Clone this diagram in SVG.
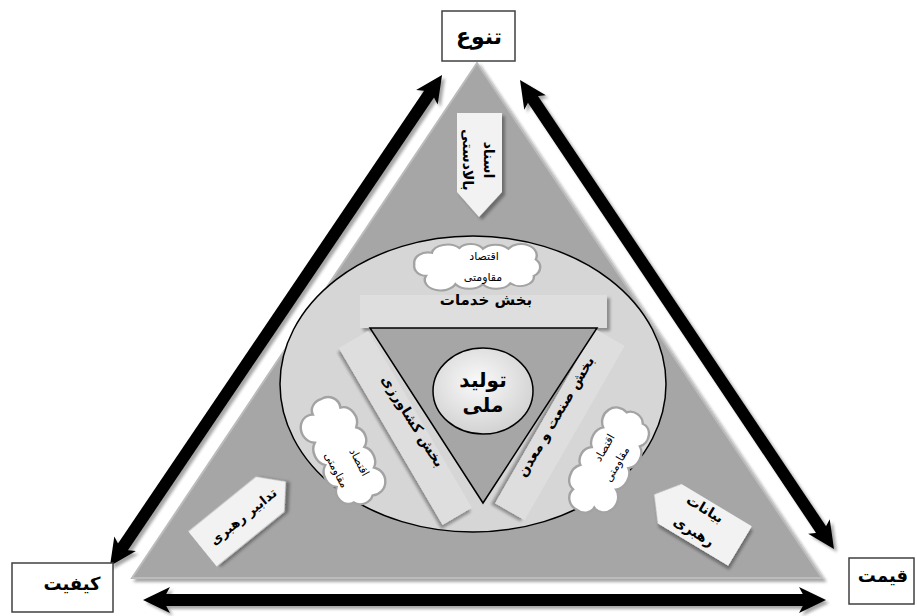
<svg xmlns="http://www.w3.org/2000/svg" xmlns:xlink="http://www.w3.org/1999/xlink" width="917" height="616" viewBox="0 0 917 616">
<style>
text{font-family:"DejaVu Sans","Noto Sans",sans-serif;fill:#000;text-anchor:middle}
.b{font-weight:bold}
.lbl{fill:#fff;stroke:#404040;stroke-width:1.5}
.bar{fill:#dedede}
.pent{fill:#f2f2f2}
.cloud{fill:#fff;stroke:#a3a3a3;stroke-width:2.5;vector-effect:non-scaling-stroke}
.arr{fill:none;stroke:#000;stroke-width:12}
</style>
<defs>
<filter id="sh" x="-10%" y="-10%" width="130%" height="130%">
<feGaussianBlur in="SourceAlpha" stdDeviation="1.8"/>
<feOffset dx="2.5" dy="2.5" result="o"/>
<feFlood flood-color="#000" flood-opacity="0.35"/>
<feComposite in2="o" operator="in"/>
<feMerge><feMergeNode/><feMergeNode in="SourceGraphic"/></feMerge>
</filter>
<radialGradient id="cg" cx="45%" cy="40%" r="65%">
<stop offset="0" stop-color="#fafafa"/>
<stop offset="1" stop-color="#cfcfcf"/>
</radialGradient>
<marker id="ah" viewBox="-6 -14 30 28" markerWidth="30" markerHeight="28" markerUnits="userSpaceOnUse" refX="3" refY="0" orient="auto-start-reverse" overflow="visible">
<path d="M-5,-13 L22,0 L-5,13 L2,0 Z" fill="#000"/>
</marker>
<path id="cloudp" d="M-52,12 A12 12 0 0 1 -64,-2 A14 13 0 0 1 -46,-16 A16 12 0 0 1 -18,-22 A14 11 0 0 1 6,-21 A16 12 0 0 1 32,-21 A16 14 0 0 1 60,-8 A12 12 0 0 1 58,12 A14 11 0 0 1 34,21 A16 12 0 0 1 6,22 A16 11 0 0 1 -22,22 A14 11 0 0 1 -52,12 Z"/>
</defs>

<g id="big-triangle">
<polygon points="477,63 132,578 822,578" fill="#a6a6a6" stroke="#bcbcbc" stroke-width="2" filter="url(#sh)"/>
</g>

<g id="connectors" filter="url(#sh)">
<line class="arr" x1="431.4" y1="90.7" x2="120.6" y2="550.3" marker-start="url(#ah)" marker-end="url(#ah)"/>
<line class="arr" x1="530.6" y1="95.8" x2="823.4" y2="533.2" marker-start="url(#ah)" marker-end="url(#ah)"/>
<line class="arr" x1="162" y1="600" x2="807" y2="600" marker-start="url(#ah)" marker-end="url(#ah)"/>
</g>

<g id="node-tanavo">
<rect class="lbl" x="442" y="11" width="73" height="50"/>
<text class="b" x="479" y="44" font-size="22">تنوع</text>
</g>
<g id="node-keyfiyat">
<rect class="lbl" x="12" y="563" width="101" height="49"/>
<text class="b" x="72" y="590" font-size="18">کیفیت</text>
</g>
<g id="node-gheymat">
<rect class="lbl" x="849" y="558" width="65" height="46"/>
<text class="b" x="883" y="582" font-size="18">قیمت</text>
</g>

<g id="node-asnad">
<polygon class="pent" points="457,113 502,113 502,192 479,217 457,192" filter="url(#sh)"/>
<g transform="translate(478,160) rotate(90)">
<text class="b" x="0" y="-6" font-size="14">اسناد</text>
<text class="b" x="0" y="15" font-size="14">بالادستی</text>
</g>
</g>

<g id="node-tadabir" transform="translate(202.5,549) rotate(-39)">
<polygon class="pent" points="0,-22.5 87,-22.5 107,0 87,22.5 0,22.5" filter="url(#sh)"/>
<text class="b" x="52" y="5" font-size="13">تدابیر رهبری</text>
</g>

<g id="node-bayanat" transform="translate(740,546) rotate(31)">
<polygon class="pent" points="0,-23 0,23 -82,23 -100,0 -82,-23" filter="url(#sh)"/>
<text class="b" x="-49" y="-9" font-size="14">بیانات</text>
<text class="b" x="-47" y="16" font-size="14">رهبری</text>
</g>

<g id="node-eghtesad-ellipse">
<ellipse cx="473" cy="384" rx="193" ry="148" fill="#d6d6d6" stroke="#000" stroke-width="1.5"/>
</g>

<g id="node-cloud-top">
<use href="#cloudp" class="cloud" transform="translate(477,266) scale(0.98,0.82)"/>
<text x="484" y="260" font-size="11">اقتصاد</text>
<text x="483" y="281" font-size="11">مقاومتی</text>
</g>
<g id="node-cloud-left">
<use href="#cloudp" class="cloud" transform="translate(343,451) rotate(65) scale(0.88,1.0)"/>
<g transform="translate(348,466) rotate(62)">
<text x="2" y="-8" font-size="11">اقتصاد</text>
<text x="-2" y="16" font-size="11">مقاومتی</text>
</g>
</g>
<g id="node-cloud-right">
<use href="#cloudp" class="cloud" transform="translate(607,462) rotate(-60) scale(0.88,0.98)"/>
<g transform="translate(610,455.5) rotate(-60)">
<text x="4" y="-5" font-size="11">اقتصاد</text>
<text x="-4" y="14" font-size="11">مقاومتی</text>
</g>
</g>

<g id="node-khadamat">
<rect class="bar" x="360" y="295" width="247" height="33" filter="url(#sh)"/>
<text class="b" x="486" y="305" font-size="15">بخش خدمات</text>
</g>

<g id="node-keshavarzi">
<rect class="bar" x="0" y="-17" width="205" height="34" transform="translate(353.5,339.5) rotate(59.6)" filter="url(#sh)"/>
<text class="b" x="0" y="5" font-size="14" transform="translate(413,421) rotate(58)">بخش کشاورزی</text>
</g>

<g id="node-sanat">
<rect class="bar" x="0" y="-17" width="201" height="34" transform="translate(610,337.5) rotate(119.9)" filter="url(#sh)"/>
<text class="b" x="0" y="5" font-size="14" transform="translate(555.5,416.5) rotate(-59.5)">بخش صنعت و معدن</text>
</g>

<g id="node-inner-triangle">
<polygon points="370,328 597,328 483,503" fill="#a6a6a6" stroke="#000" stroke-width="1.5"/>
</g>

<g id="node-tolid">
<ellipse cx="483" cy="391" rx="50" ry="43" fill="url(#cg)" stroke="#000" stroke-width="1.5"/>
<text class="b" x="483" y="387" font-size="20">تولید</text>
<text class="b" x="483" y="412" font-size="20">ملی</text>
</g>
</svg>
